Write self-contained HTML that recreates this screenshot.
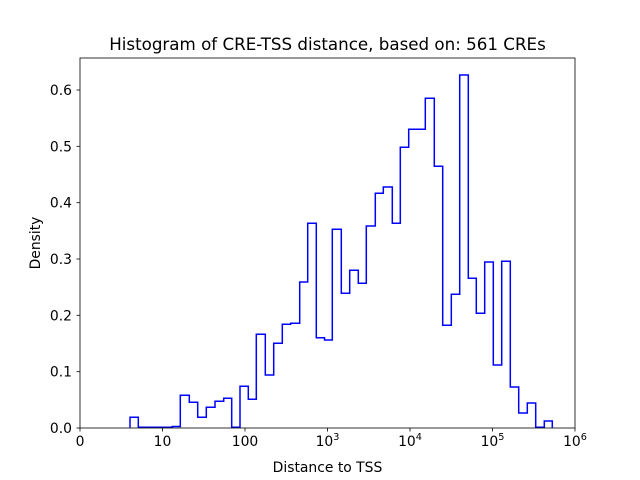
<!DOCTYPE html>
<html><head><style>body{margin:0;background:#fff}svg{display:block}text{font-family:"DejaVu Sans","Liberation Sans",sans-serif;fill:#000}</style></head>
<body>
<svg width="640" height="480" viewBox="0 0 640 480">
<rect width="640" height="480" fill="#fff"/>
<path fill="none" stroke="#0000ff" stroke-width="1.5" stroke-linejoin="miter" d="M130,427.5 V417.3 H138.3 V427.3 H172.3 V426.5 H180.3 V395.3 H189.3 V402.3 H197.7 V417.3 H206.3 V407.3 H215 V401.3 H223.7 V398.3 H231.7 V427.3 H240 V386.3 H248.3 V399.3 H256.3 V334.3 H265.3 V375 H273.7 V343.3 H282.3 V324.3 H290.7 V323.3 H299.7 V282 H307.7 V223.3 H316.3 V337.7 H324.5 V340 H332.3 V229.3 H341.3 V293.3 H349.7 V270.3 H358.3 V283.3 H366.3 V226 H375.3 V193.3 H383.3 V187 H392.3 V223.3 H400.3 V147.3 H408.7 V129.3 H425.3 V98.3 H434.3 V166.3 H442.7 V325.3 H451.3 V294.3 H459.7 V75 H468.3 V278.3 H476.3 V313.3 H484.7 V262 H493.3 V365 H501.7 V261.3 H510.3 V387 H518.7 V413 H527.3 V403 H535.7 V427.3 H544.3 V421 H552.3 V427.5"/>
<rect x="80" y="58" width="495" height="370" fill="none" stroke="#000" stroke-width="0.8"/>
<g stroke="#000" stroke-width="0.8">
<line x1="80" y1="428" x2="80" y2="431.5"/><line x1="162.5" y1="428" x2="162.5" y2="431.5"/><line x1="245" y1="428" x2="245" y2="431.5"/><line x1="327.5" y1="428" x2="327.5" y2="431.5"/><line x1="410" y1="428" x2="410" y2="431.5"/><line x1="492.5" y1="428" x2="492.5" y2="431.5"/><line x1="575" y1="428" x2="575" y2="431.5"/>
<line x1="76.5" y1="428" x2="80" y2="428"/><line x1="76.5" y1="371.7" x2="80" y2="371.7"/><line x1="76.5" y1="315.3" x2="80" y2="315.3"/><line x1="76.5" y1="259" x2="80" y2="259"/><line x1="76.5" y1="202.7" x2="80" y2="202.7"/><line x1="76.5" y1="146.3" x2="80" y2="146.3"/><line x1="76.5" y1="90" x2="80" y2="90"/>
</g>
<g font-size="13.9" text-anchor="middle">
<text x="80" y="446">0</text><text x="162.5" y="446">10</text><text x="245" y="446">100</text>
<text x="327.5" y="446">10<tspan font-size="9.7" dy="-6">3</tspan></text>
<text x="410" y="446">10<tspan font-size="9.7" dy="-6">4</tspan></text>
<text x="492.5" y="446">10<tspan font-size="9.7" dy="-6">5</tspan></text>
<text x="575" y="446">10<tspan font-size="9.7" dy="-6">6</tspan></text>
</g>
<g font-size="13.9" text-anchor="end">
<text x="72" y="433">0.0</text><text x="72" y="376.7">0.1</text><text x="72" y="320.3">0.2</text><text x="72" y="264">0.3</text><text x="72" y="207.7">0.4</text><text x="72" y="151.3">0.5</text><text x="72" y="95">0.6</text>
</g>
<text x="327.5" y="472" font-size="13.9" text-anchor="middle">Distance to TSS</text>
<text transform="translate(40,243) rotate(-90)" font-size="13.9" text-anchor="middle">Density</text>
<text x="327.5" y="50" font-size="16.7" text-anchor="middle">Histogram of CRE-TSS distance, based on: 561 CREs</text>
</svg>
</body></html>
